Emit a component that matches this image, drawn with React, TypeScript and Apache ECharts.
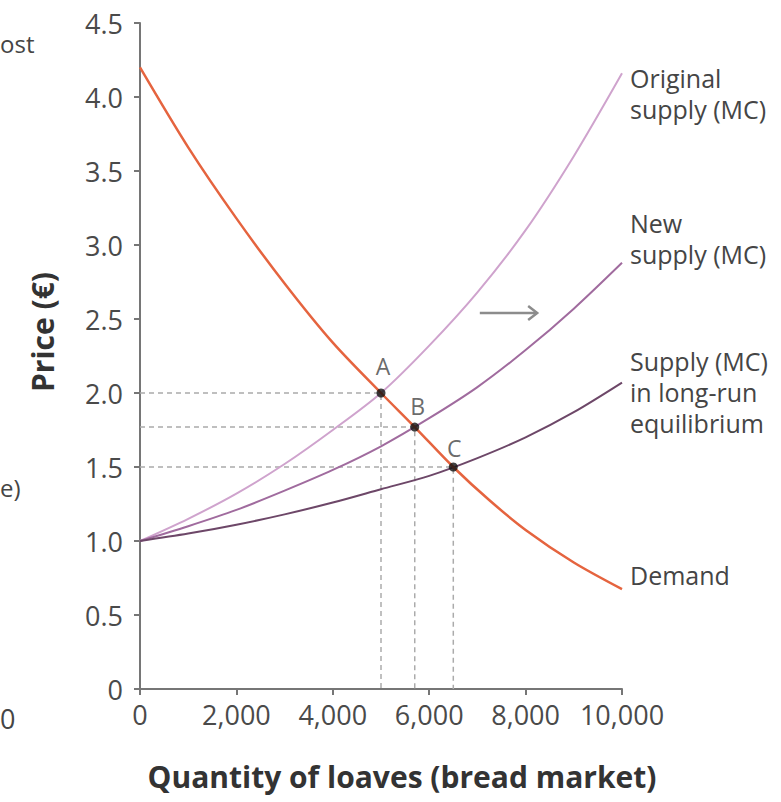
import React, { useEffect, useRef } from "react";
import * as echarts from "echarts";

const xTicks = [0, 2000, 4000, 6000, 8000, 10000];
const yTicks = [0, 0.5, 1, 1.5, 2, 2.5, 3, 3.5, 4, 4.5];

const demandQ = [0, 1000, 2000, 3000, 4000, 5000, 5700, 6500, 7250, 8000, 9000, 10000];
const demandP = [4.2, 3.66, 3.18, 2.74, 2.34, 2.0, 1.77, 1.5, 1.275, 1.075, 0.855, 0.675];

const supplyQ = [0, 1000, 2000, 3000, 4000, 5000, 6000, 7000, 8000, 9000, 10000];
const originalP = [1.0, 1.15, 1.32, 1.52, 1.75, 2.0, 2.32, 2.68, 3.1, 3.6, 4.16];
const newP = [1.0, 1.1, 1.21, 1.34, 1.48, 1.64, 1.83, 2.04, 2.29, 2.57, 2.88];
const longRunP = [1.0, 1.05, 1.11, 1.18, 1.26, 1.35, 1.44, 1.56, 1.7, 1.87, 2.07];

const pointNames = ["A", "B", "C"];
const pointQ = [5000, 5700, 6500];
const pointP = [2.0, 1.77, 1.5];

const arrowFrom = [7050, 2.54];
const arrowTo = [8240, 2.54];

const FONT = "'Open Sans', 'Noto Sans', sans-serif";

const zip = (xs: number[], ys: number[]) => xs.map((x, i) => [x, ys[i]]);

export default function App() {
  const ref = useRef<HTMLDivElement>(null);

  useEffect(() => {
    document.body.style.margin = "0";
    const chart = echarts.init(ref.current!, null, { renderer: "svg" });

    const guideSeries = pointQ.map((q, i) => ({
      type: "line",
      data: [
        [0, pointP[i]],
        [q, pointP[i]],
        [q, 0],
      ],
      symbol: "none",
      lineStyle: { color: "#ababab", width: 1.5, type: [5, 4] },
      z: 1,
      silent: true,
    }));

    const labelOffsets = [
      [2, -27],
      [3, -21],
      [1, -19],
    ];

    const option: any = {
      animation: false,
      backgroundColor: "#ffffff",
      grid: { left: 140, right: 159, top: 23, bottom: 113 },
      xAxis: {
        type: "value",
        min: xTicks[0],
        max: xTicks[xTicks.length - 1],
        interval: 2000,
        splitLine: { show: false },
        axisLine: { show: true, lineStyle: { color: "#767676", width: 2 } },
        axisTick: { show: true, length: 6, lineStyle: { color: "#767676", width: 2 } },
        axisLabel: {
          color: "#4a4a4a",
          fontSize: 27,
          fontFamily: FONT,
          margin: 12,
          formatter: (v: number) => v.toLocaleString("en-US"),
        },
      },
      yAxis: {
        type: "value",
        min: yTicks[0],
        max: yTicks[yTicks.length - 1],
        interval: 0.5,
        splitLine: { show: false },
        axisLine: { show: true, lineStyle: { color: "#767676", width: 2 } },
        axisTick: { show: true, length: 6, lineStyle: { color: "#767676", width: 2 } },
        axisLabel: {
          color: "#4a4a4a",
          fontSize: 27,
          fontFamily: FONT,
          margin: 17,
          formatter: (v: number) => (v === 0 ? "0" : v.toFixed(1)),
        },
      },
      series: [
        ...guideSeries,
        {
          type: "line",
          name: "Original supply",
          data: zip(supplyQ, originalP),
          smooth: 0.3,
          symbol: "none",
          lineStyle: { color: "#cfa3cd", width: 2 },
          z: 2,
        },
        {
          type: "line",
          name: "New supply",
          data: zip(supplyQ, newP),
          smooth: 0.3,
          symbol: "none",
          lineStyle: { color: "#a06b9e", width: 2 },
          z: 2,
        },
        {
          type: "line",
          name: "Long-run supply",
          data: zip(supplyQ, longRunP),
          smooth: 0.3,
          symbol: "none",
          lineStyle: { color: "#6d4768", width: 2 },
          z: 2,
        },
        {
          type: "line",
          name: "Demand",
          data: zip(demandQ, demandP),
          smooth: 0.3,
          symbol: "none",
          lineStyle: { color: "#e5643f", width: 2.5 },
          z: 3,
        },
        {
          type: "scatter",
          data: pointQ.map((q, i) => ({
            value: [q, pointP[i]],
            name: pointNames[i],
            label: {
              show: true,
              formatter: pointNames[i],
              position: "inside",
              offset: labelOffsets[i],
              fontSize: 23,
              color: "#444",
              fontFamily: FONT,
            },
          })),
          symbolSize: 9,
          itemStyle: { color: "#111" },
          z: 5,
        },
      ],
    };

    chart.setOption(option);

    const p1 = chart.convertToPixel({ gridIndex: 0 }, arrowFrom) as number[];
    const p2 = chart.convertToPixel({ gridIndex: 0 }, arrowTo) as number[];

    const txt = (x: number, y: number, text: string, extra: any = {}) => ({
      type: "text",
      x,
      y,
      style: {
        text,
        fontSize: 25,
        lineHeight: 31,
        fill: "#454545",
        fontFamily: FONT,
        ...extra,
      },
    });

    chart.setOption({
      graphic: [
        {
          type: "line",
          shape: { x1: p1[0], y1: p1[1], x2: p2[0], y2: p2[1] },
          style: { stroke: "#8c8c8c", lineWidth: 2.5 },
        },
        {
          type: "polyline",
          shape: {
            points: [
              [p2[0] - 9, p2[1] - 7],
              [p2[0], p2[1]],
              [p2[0] - 9, p2[1] + 7],
            ],
          },
          style: { stroke: "#8c8c8c", lineWidth: 2.5, fill: null },
        },
        txt(630, 62, "Original\nsupply (MC)"),
        txt(630, 207, "New\nsupply (MC)"),
        txt(630, 345, "Supply (MC)\nin long-run\nequilibrium"),
        txt(630, 559, "Demand"),
        txt(0, 28, "ost", { fontSize: 24 }),
        txt(0, 472, "e)", { fontSize: 24 }),
        txt(0, 703, "0", { fontSize: 27 }),
        {
          type: "text",
          x: 42,
          y: 332,
          rotation: Math.PI / 2,
          style: {
            text: "Price (€)",
            fontSize: 30,
            fontWeight: "bold",
            fill: "#333",
            fontFamily: FONT,
            align: "center",
            verticalAlign: "middle",
          },
        },
        {
          type: "text",
          x: 402,
          y: 776,
          style: {
            text: "Quantity of loaves (bread market)",
            fontSize: 30,
            fontWeight: "bold",
            fill: "#333",
            fontFamily: FONT,
            align: "center",
            verticalAlign: "middle",
          },
        },
      ],
    });

    return () => chart.dispose();
  }, []);

  return <div ref={ref} style={{ width: 781, height: 802 }} />;
}
